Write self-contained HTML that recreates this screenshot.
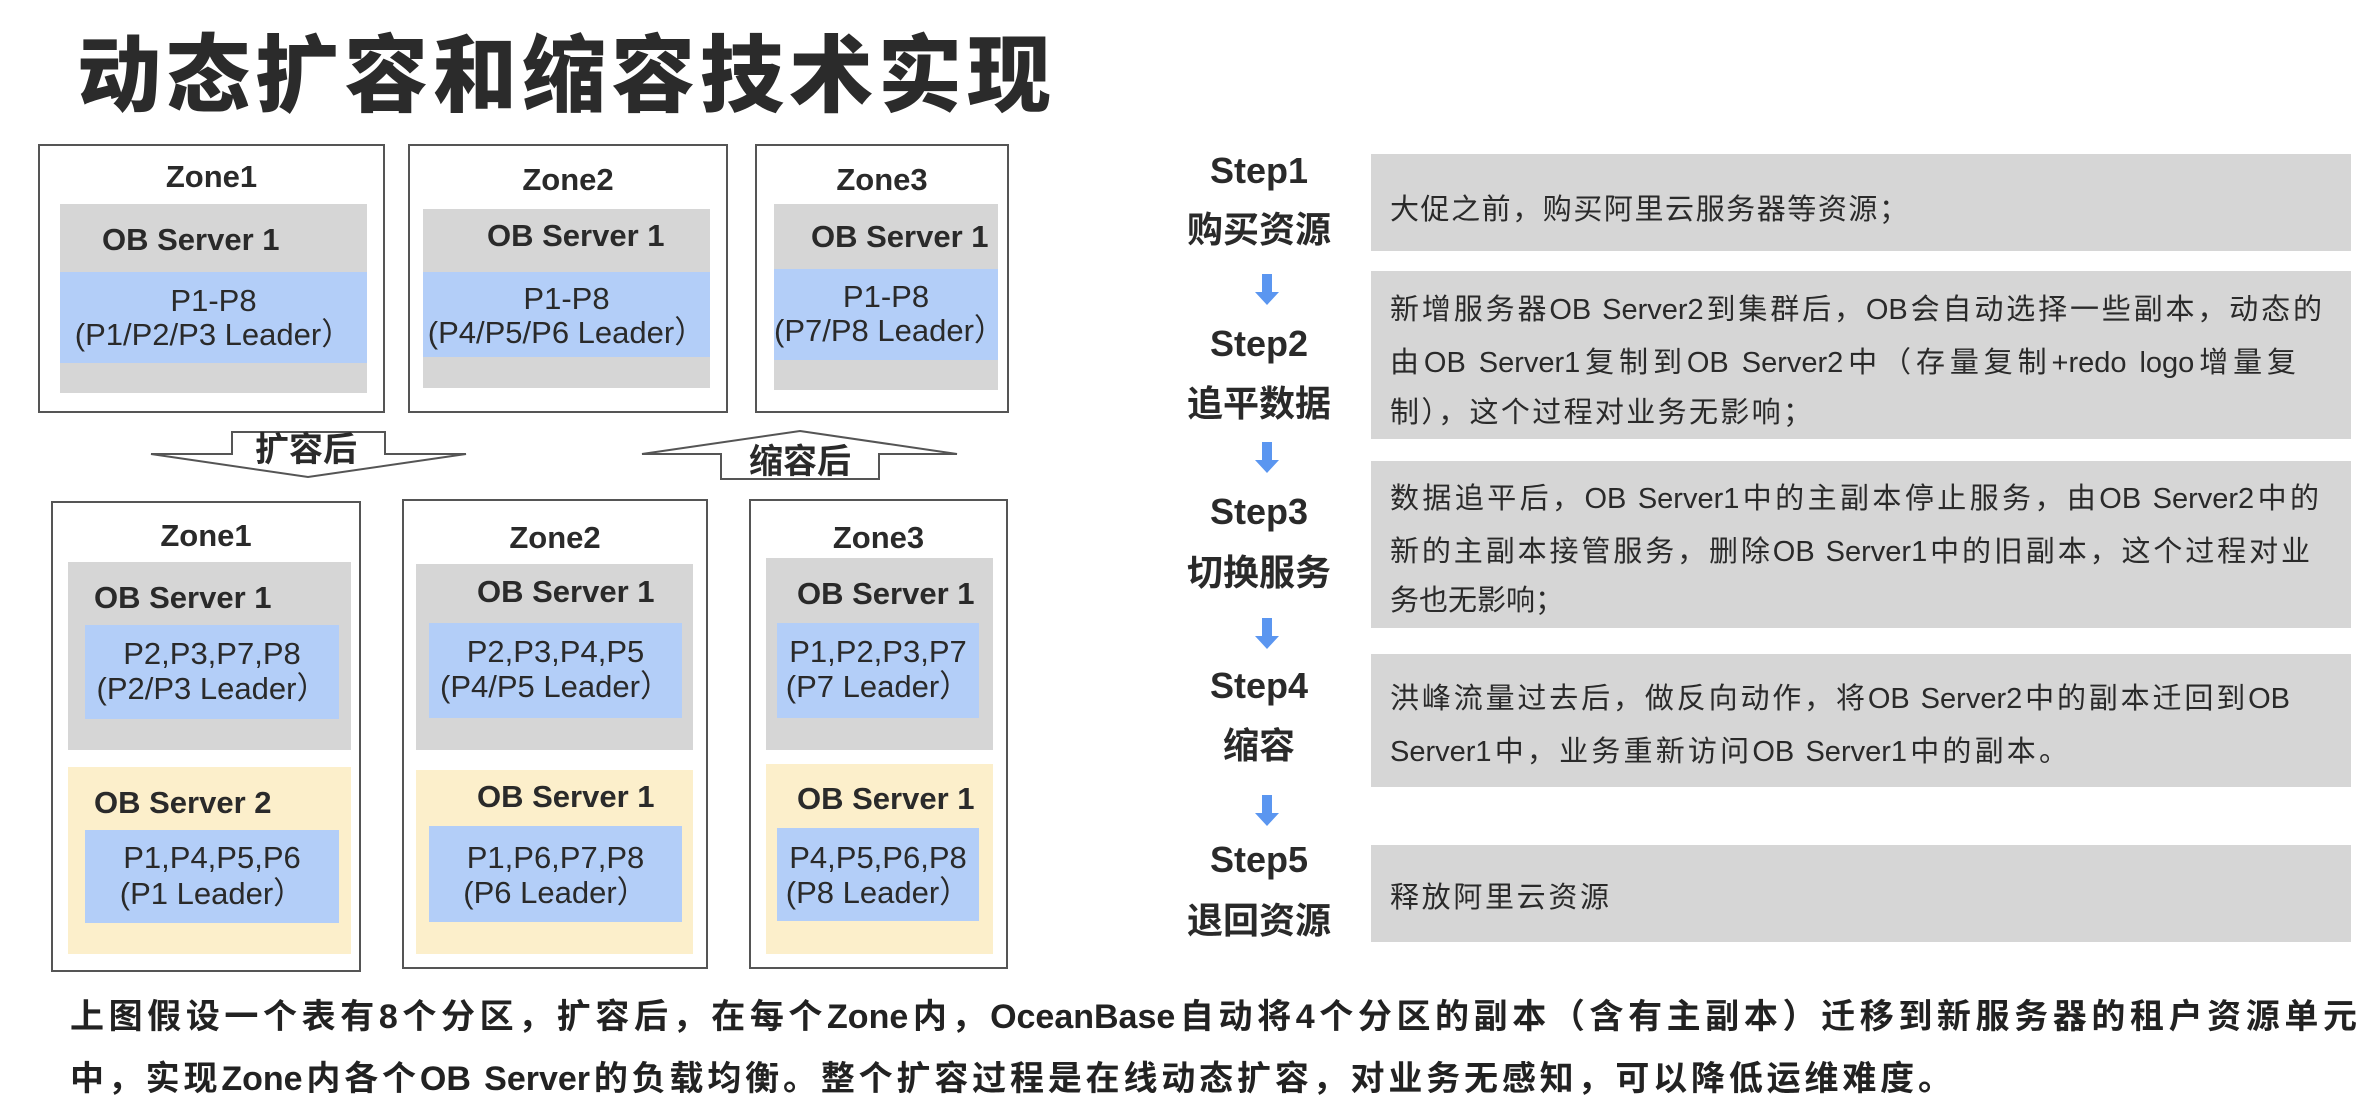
<!DOCTYPE html>
<html><head><meta charset="utf-8"><style>
*{margin:0;padding:0;box-sizing:border-box}
body{width:2369px;height:1105px;background:#fff;position:relative;overflow:hidden;font-family:"Liberation Sans","Noto Sans CJK SC",sans-serif;color:#2a2a2a}
div{position:absolute}
.z{border:2px solid #555;background:#fff}
.g{background:#d6d6d6}
.b{background:#b3cef8}
.y{background:#fcefcb}
.t{white-space:nowrap;line-height:40px;height:40px}
.lab{font-size:31px;font-weight:bold;color:#2a2a2a}
.p{font-size:31px;color:#2a2a2a;text-align:center}
.st{font-size:36px;font-weight:bold;text-align:center;width:220px;left:1149px;line-height:44px;height:44px;color:#2a2a2a}
.bx{background:#d6d6d6;left:1371px;width:980px}
.tx{font-size:29px;left:1390px;line-height:40px;height:40px;white-space:nowrap;text-align:justify;text-align-last:justify;color:#2a2a2a}
</style></head><body>
<div class="t" style="left:77px;top:26px;height:100px;line-height:100px;font-size:84px;font-weight:900;letter-spacing:5px;color:#2b2b2b">动态扩容和缩容技术实现</div>

<!-- top zones -->
<div class="z" style="left:38px;top:144px;width:347px;height:269px"></div>
<div class="g" style="left:60px;top:204px;width:307px;height:189px"></div>
<div class="b" style="left:60px;top:272px;width:307px;height:91px"></div>
<div class="t lab" style="left:38px;width:347px;top:157px;text-align:center">Zone1</div>
<div class="t lab" style="left:102px;top:220px">OB Server 1</div>
<div class="t p" style="left:60px;width:307px;top:281px">P1-P8</div>
<div class="t p" style="left:60px;width:307px;top:315px">(P1/P2/P3 Leader）</div>

<div class="z" style="left:408px;top:144px;width:320px;height:269px"></div>
<div class="g" style="left:423px;top:209px;width:287px;height:179px"></div>
<div class="b" style="left:423px;top:272px;width:287px;height:85px"></div>
<div class="t lab" style="left:408px;width:320px;top:160px;text-align:center">Zone2</div>
<div class="t lab" style="left:487px;top:216px">OB Server 1</div>
<div class="t p" style="left:423px;width:287px;top:279px">P1-P8</div>
<div class="t p" style="left:423px;width:287px;top:313px">(P4/P5/P6 Leader）</div>

<div class="z" style="left:755px;top:144px;width:254px;height:269px"></div>
<div class="g" style="left:774px;top:204px;width:224px;height:186px"></div>
<div class="b" style="left:774px;top:269px;width:224px;height:91px"></div>
<div class="t lab" style="left:755px;width:254px;top:160px;text-align:center">Zone3</div>
<div class="t lab" style="left:811px;top:217px">OB Server 1</div>
<div class="t p" style="left:774px;width:224px;top:277px">P1-P8</div>
<div class="t p" style="left:774px;width:224px;top:311px">(P7/P8 Leader）</div>

<!-- arrows -->
<svg style="position:absolute;left:0;top:0" width="1100" height="500">
<polygon points="232,432 385,432 385,454 466,454 308,477 151,454 232,454" fill="#fff" stroke="#555" stroke-width="2"/>
<polygon points="800,431 957,454 879,454 879,479 721,479 721,454 642,454" fill="#fff" stroke="#555" stroke-width="2"/>
</svg>
<div class="t" style="left:246px;width:120px;top:430px;text-align:center;font-size:34px;font-weight:bold">扩容后</div>
<div class="t" style="left:740px;width:120px;top:442px;text-align:center;font-size:34px;font-weight:bold">缩容后</div>

<!-- bottom zones -->
<div class="z" style="left:51px;top:501px;width:310px;height:471px"></div>
<div class="g" style="left:68px;top:562px;width:283px;height:188px"></div>
<div class="b" style="left:85px;top:625px;width:254px;height:94px"></div>
<div class="y" style="left:68px;top:767px;width:283px;height:187px"></div>
<div class="b" style="left:85px;top:830px;width:254px;height:93px"></div>
<div class="t lab" style="left:51px;width:310px;top:516px;text-align:center">Zone1</div>
<div class="t lab" style="left:94px;top:578px">OB Server 1</div>
<div class="t p" style="left:85px;width:254px;top:634px">P2,P3,P7,P8</div>
<div class="t p" style="left:85px;width:254px;top:669px">(P2/P3 Leader）</div>
<div class="t lab" style="left:94px;top:783px">OB Server 2</div>
<div class="t p" style="left:85px;width:254px;top:838px">P1,P4,P5,P6</div>
<div class="t p" style="left:85px;width:254px;top:874px">(P1 Leader）</div>

<div class="z" style="left:402px;top:499px;width:306px;height:470px"></div>
<div class="g" style="left:416px;top:564px;width:277px;height:186px"></div>
<div class="b" style="left:429px;top:623px;width:253px;height:95px"></div>
<div class="y" style="left:416px;top:770px;width:277px;height:184px"></div>
<div class="b" style="left:429px;top:826px;width:253px;height:96px"></div>
<div class="t lab" style="left:402px;width:306px;top:518px;text-align:center">Zone2</div>
<div class="t lab" style="left:477px;top:572px">OB Server 1</div>
<div class="t p" style="left:429px;width:253px;top:632px">P2,P3,P4,P5</div>
<div class="t p" style="left:429px;width:253px;top:667px">(P4/P5 Leader）</div>
<div class="t lab" style="left:477px;top:777px">OB Server 1</div>
<div class="t p" style="left:429px;width:253px;top:838px">P1,P6,P7,P8</div>
<div class="t p" style="left:429px;width:253px;top:873px">(P6 Leader）</div>

<div class="z" style="left:749px;top:499px;width:259px;height:470px"></div>
<div class="g" style="left:766px;top:558px;width:227px;height:192px"></div>
<div class="b" style="left:777px;top:623px;width:202px;height:95px"></div>
<div class="y" style="left:766px;top:764px;width:227px;height:190px"></div>
<div class="b" style="left:777px;top:828px;width:202px;height:93px"></div>
<div class="t lab" style="left:749px;width:259px;top:518px;text-align:center">Zone3</div>
<div class="t lab" style="left:797px;top:574px">OB Server 1</div>
<div class="t p" style="left:777px;width:202px;top:632px">P1,P2,P3,P7</div>
<div class="t p" style="left:777px;width:202px;top:667px">(P7 Leader）</div>
<div class="t lab" style="left:797px;top:779px">OB Server 1</div>
<div class="t p" style="left:777px;width:202px;top:838px">P4,P5,P6,P8</div>
<div class="t p" style="left:777px;width:202px;top:873px">(P8 Leader）</div>

<!-- right steps -->
<div class="bx" style="top:154px;height:97px"></div>
<div class="bx" style="top:271px;height:168px"></div>
<div class="bx" style="top:461px;height:167px"></div>
<div class="bx" style="top:654px;height:133px"></div>
<div class="bx" style="top:845px;height:97px"></div>

<div class="st" style="top:149px">Step1</div>
<div class="st" style="top:208px">购买资源</div>
<div class="st" style="top:322px">Step2</div>
<div class="st" style="top:382px">追平数据</div>
<div class="st" style="top:490px">Step3</div>
<div class="st" style="top:551px">切换服务</div>
<div class="st" style="top:664px">Step4</div>
<div class="st" style="top:724px">缩容</div>
<div class="st" style="top:838px">Step5</div>
<div class="st" style="top:899px">退回资源</div>

<svg style="position:absolute;left:0;top:0" width="2369" height="1105">
<g fill="#5b96f0">
<polygon points="1262,274 1272,274 1272,292 1279,292 1267,305 1255,292 1262,292"/>
<polygon points="1262,442 1272,442 1272,460 1279,460 1267,473 1255,460 1262,460"/>
<polygon points="1262,618 1272,618 1272,636 1279,636 1267,649 1255,636 1262,636"/>
<polygon points="1262,795 1272,795 1272,813 1279,813 1267,826 1255,813 1262,813"/>
</g></svg>

<div class="tx" style="top:190px;width:518px">大促之前，购买阿里云服务器等资源；</div>
<div class="tx" style="top:290px;width:932px">新增服务器OB Server2到集群后，OB会自动选择一些副本，动态的</div>
<div class="tx" style="top:343px;width:906px">由OB Server1复制到OB Server2中（存量复制+redo logo增量复</div>
<div class="tx" style="top:393px;width:422px">制），这个过程对业务无影响；</div>
<div class="tx" style="top:479px;width:929px">数据追平后，OB Server1中的主副本停止服务，由OB Server2中的</div>
<div class="tx" style="top:532px;width:920px">新的主副本接管服务，删除OB Server1中的旧副本，这个过程对业</div>
<div class="tx" style="top:581px;width:170px">务也无影响；</div>
<div class="tx" style="top:679px;width:900px">洪峰流量过去后，做反向动作，将OB Server2中的副本迁回到OB</div>
<div class="tx" style="top:732px;width:678px">Server1中，业务重新访问OB Server1中的副本。</div>
<div class="tx" style="top:878px;width:219px">释放阿里云资源</div>

<div style="left:70px;top:994px;width:2287px;height:46px;line-height:46px;font-size:34px;font-weight:bold;white-space:nowrap;text-align:justify;text-align-last:justify;color:#222">上图假设一个表有8个分区，扩容后，在每个Zone内，OceanBase自动将4个分区的副本（含有主副本）迁移到新服务器的租户资源单元</div>
<div style="left:70px;top:1056px;width:1882px;height:46px;line-height:46px;font-size:34px;font-weight:bold;white-space:nowrap;text-align:justify;text-align-last:justify;color:#222">中，实现Zone内各个OB Server的负载均衡。整个扩容过程是在线动态扩容，对业务无感知，可以降低运维难度。</div>
</body></html>
